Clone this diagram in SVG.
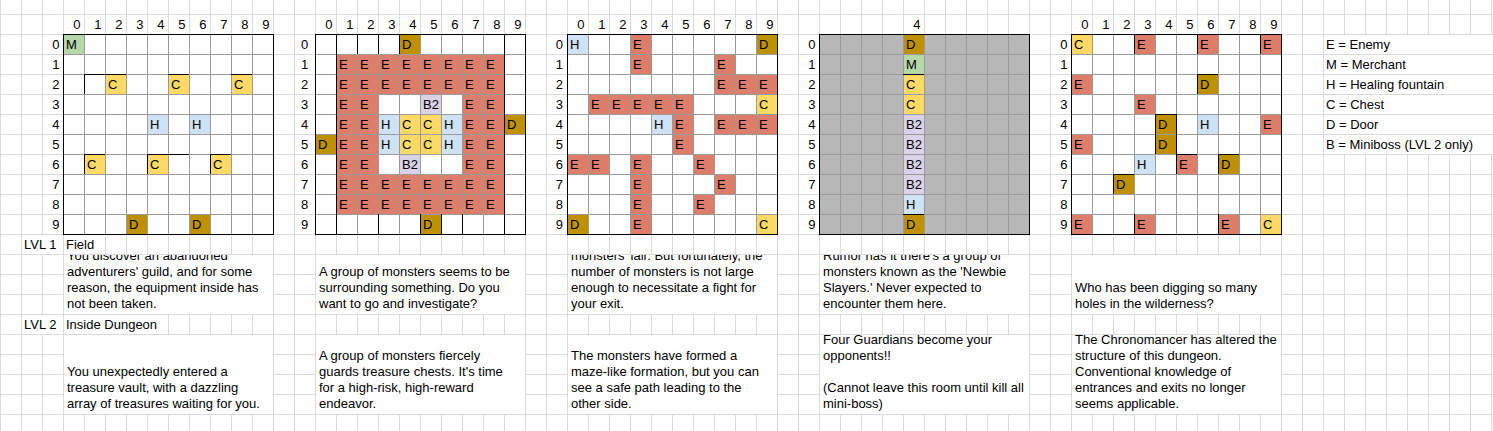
<svg xmlns="http://www.w3.org/2000/svg" width="1493" height="431" viewBox="0 0 1493 431">
<style>
.t{font-family:"Liberation Sans",Arial,sans-serif;font-size:13px;fill:#000}
.r{text-anchor:end}
.ctr{text-anchor:middle}
.w{fill:#fff}
.e{fill:#dd7e6b}.c{fill:#ffd966}.d{fill:#bf9000}.h{fill:#cfe2f3}.m{fill:#b6d7a8}.b{fill:#d9d2e9}.g{fill:#b7b7b7}
.bl{stroke:#000;stroke-width:1;fill:none}
.gl{fill:url(#gp)}
</style>
<defs>
<pattern id="sp" patternUnits="userSpaceOnUse" x="0" y="14" width="21" height="20"><path d="M0.5 0V20M0 0.5H21" stroke="#dadada" fill="none"/></pattern>
<pattern id="gp" patternUnits="userSpaceOnUse" x="0" y="14" width="21" height="20"><path d="M0.5 0V20M0 0.5H21" stroke="#9a9a9a" fill="none"/></pattern>
<clipPath id="r1"><rect x="0" y="255" width="1493" height="59"/></clipPath>
</defs>
<rect width="1493" height="431" fill="#fff"/>
<rect width="1493" height="431" fill="url(#sp)"/>
<g id="masks" class="w">
<rect x="22" y="235" width="41" height="19"/><rect x="64" y="235" width="41" height="19"/>
<rect x="22" y="315" width="41" height="19"/><rect x="64" y="315" width="104" height="19"/>
<rect x="1324" y="35" width="169" height="19"/><rect x="1324" y="55" width="169" height="19"/><rect x="1324" y="75" width="169" height="19"/><rect x="1324" y="95" width="169" height="19"/><rect x="1324" y="115" width="169" height="19"/><rect x="1324" y="135" width="169" height="19"/>
<rect x="64" y="255" width="209" height="59"/><rect x="316" y="255" width="209" height="59"/><rect x="568" y="255" width="209" height="59"/><rect x="820" y="255" width="209" height="59"/><rect x="1072" y="255" width="209" height="59"/>
<rect x="64" y="335" width="209" height="79"/><rect x="316" y="335" width="209" height="79"/><rect x="568" y="335" width="209" height="79"/><rect x="820" y="335" width="209" height="79"/><rect x="1072" y="335" width="209" height="79"/>
</g>

<g id="grid1">
<rect class="w" x="63" y="34" width="210" height="200"/>
<rect class="m" x="63" y="34" width="21" height="20"/>
<rect class="c" x="105" y="74" width="21" height="20"/><rect class="c" x="168" y="74" width="21" height="20"/><rect class="c" x="231" y="74" width="21" height="20"/>
<rect class="h" x="147" y="114" width="21" height="20"/><rect class="h" x="189" y="114" width="21" height="20"/>
<rect class="c" x="84" y="154" width="21" height="20"/><rect class="c" x="147" y="154" width="21" height="20"/><rect class="c" x="210" y="154" width="21" height="20"/>
<rect class="d" x="126" y="214" width="21" height="20"/><rect class="d" x="189" y="214" width="21" height="20"/>
<rect class="gl" x="63" y="34" width="210" height="200"/>
<path class="bl" d="M84.5 74V94M84 74.5H126M168 74.5H189M231 74.5H252M84.5 154V174M84 154.5H105M147.5 154V174M147 154.5H189M210.5 154V174M210 154.5H231"/>
<rect class="bl" x="63.5" y="34.5" width="210" height="200"/>
<g class="t">
<text x="66" y="49">M</text>
<text x="108" y="89">C</text><text x="171" y="89">C</text><text x="234" y="89">C</text>
<text x="150" y="129">H</text><text x="192" y="129">H</text>
<text x="87" y="169">C</text><text x="150" y="169">C</text><text x="213" y="169">C</text>
<text x="129" y="229">D</text><text x="192" y="229">D</text>
</g>
<g class="t r">
<text x="80.5" y="29">0</text><text x="101.5" y="29">1</text><text x="122.5" y="29">2</text><text x="143.5" y="29">3</text><text x="164.5" y="29">4</text><text x="185.5" y="29">5</text><text x="206.5" y="29">6</text><text x="227.5" y="29">7</text><text x="248.5" y="29">8</text><text x="269.5" y="29">9</text>
<text x="59.5" y="49">0</text><text x="59.5" y="69">1</text><text x="59.5" y="89">2</text><text x="59.5" y="109">3</text><text x="59.5" y="129">4</text><text x="59.5" y="149">5</text><text x="59.5" y="169">6</text><text x="59.5" y="189">7</text><text x="59.5" y="209">8</text><text x="59.5" y="229">9</text>
</g>
</g>

<g id="grid2">
<rect class="w" x="315" y="34" width="210" height="200"/>
<rect class="d" x="399" y="34" width="21" height="20"/>
<rect class="e" x="336" y="54" width="168" height="40"/>
<rect class="e" x="336" y="94" width="42" height="80"/>
<rect class="e" x="462" y="94" width="42" height="80"/>
<rect class="e" x="336" y="174" width="168" height="40"/>
<rect class="b" x="420" y="94" width="21" height="20"/>
<rect class="h" x="378" y="114" width="21" height="40"/>
<rect class="c" x="399" y="114" width="42" height="40"/>
<rect class="h" x="441" y="114" width="21" height="40"/>
<rect class="d" x="504" y="114" width="21" height="20"/>
<rect class="d" x="315" y="134" width="21" height="20"/>
<rect class="b" x="399" y="154" width="21" height="20"/>
<rect class="d" x="420" y="214" width="21" height="20"/>
<rect class="gl" x="315" y="34" width="210" height="200"/>
<path class="bl" d="M336.5 34V234M504.5 34V234M357.5 34V54M378.5 34V54M399.5 34V54M378.5 214V234M420.5 214V234M441.5 214V234M462.5 214V234"/>
<rect class="bl" x="315.5" y="34.5" width="210" height="200"/>
<g class="t">
<text x="402" y="49">D</text>
<text x="339" y="69">E</text><text x="360" y="69">E</text><text x="381" y="69">E</text><text x="402" y="69">E</text><text x="423" y="69">E</text><text x="444" y="69">E</text><text x="465" y="69">E</text><text x="486" y="69">E</text>
<text x="339" y="89">E</text><text x="360" y="89">E</text><text x="381" y="89">E</text><text x="402" y="89">E</text><text x="423" y="89">E</text><text x="444" y="89">E</text><text x="465" y="89">E</text><text x="486" y="89">E</text>
<text x="339" y="109">E</text><text x="360" y="109">E</text><text x="423" y="109">B2</text><text x="465" y="109">E</text><text x="486" y="109">E</text>
<text x="339" y="129">E</text><text x="360" y="129">E</text><text x="381" y="129">H</text><text x="402" y="129">C</text><text x="423" y="129">C</text><text x="444" y="129">H</text><text x="465" y="129">E</text><text x="486" y="129">E</text><text x="507" y="129">D</text>
<text x="318" y="149">D</text><text x="339" y="149">E</text><text x="360" y="149">E</text><text x="381" y="149">H</text><text x="402" y="149">C</text><text x="423" y="149">C</text><text x="444" y="149">H</text><text x="465" y="149">E</text><text x="486" y="149">E</text>
<text x="339" y="169">E</text><text x="360" y="169">E</text><text x="402" y="169">B2</text><text x="465" y="169">E</text><text x="486" y="169">E</text>
<text x="339" y="189">E</text><text x="360" y="189">E</text><text x="381" y="189">E</text><text x="402" y="189">E</text><text x="423" y="189">E</text><text x="444" y="189">E</text><text x="465" y="189">E</text><text x="486" y="189">E</text>
<text x="339" y="209">E</text><text x="360" y="209">E</text><text x="381" y="209">E</text><text x="402" y="209">E</text><text x="423" y="209">E</text><text x="444" y="209">E</text><text x="465" y="209">E</text><text x="486" y="209">E</text>
<text x="423" y="229">D</text>
</g>
<g class="t r">
<text x="332.5" y="29">0</text><text x="353.5" y="29">1</text><text x="374.5" y="29">2</text><text x="395.5" y="29">3</text><text x="416.5" y="29">4</text><text x="437.5" y="29">5</text><text x="458.5" y="29">6</text><text x="479.5" y="29">7</text><text x="500.5" y="29">8</text><text x="521.5" y="29">9</text>
</g>
<g class="t ctr">
<text x="304.5" y="49">0</text><text x="304.5" y="69">1</text><text x="304.5" y="89">2</text><text x="304.5" y="109">3</text><text x="304.5" y="129">4</text><text x="304.5" y="149">5</text><text x="304.5" y="169">6</text><text x="304.5" y="189">7</text><text x="304.5" y="209">8</text><text x="304.5" y="229">9</text>
</g>
</g>

<g id="grid3">
<rect class="w" x="567" y="34" width="210" height="200"/>
<rect class="h" x="567" y="34" width="21" height="20"/><rect class="e" x="630" y="34" width="21" height="20"/><rect class="d" x="756" y="34" width="21" height="20"/>
<rect class="e" x="630" y="54" width="21" height="20"/><rect class="e" x="714" y="54" width="21" height="20"/>
<rect class="e" x="714" y="74" width="63" height="20"/>
<rect class="e" x="588" y="94" width="105" height="20"/><rect class="c" x="756" y="94" width="21" height="20"/>
<rect class="h" x="651" y="114" width="21" height="20"/><rect class="e" x="672" y="114" width="21" height="40"/><rect class="e" x="714" y="114" width="63" height="20"/>
<rect class="e" x="567" y="154" width="42" height="20"/><rect class="e" x="630" y="154" width="21" height="80"/><rect class="e" x="693" y="154" width="21" height="20"/>
<rect class="e" x="714" y="174" width="21" height="20"/>
<rect class="e" x="693" y="194" width="21" height="20"/>
<rect class="d" x="567" y="214" width="21" height="20"/><rect class="c" x="756" y="214" width="21" height="20"/>
<rect class="gl" x="567" y="34" width="210" height="200"/>
<rect class="bl" x="567.5" y="34.5" width="210" height="200"/>
<g class="t">
<text x="570" y="49">H</text><text x="633" y="49">E</text><text x="759" y="49">D</text>
<text x="633" y="69">E</text><text x="717" y="69">E</text>
<text x="717" y="89">E</text><text x="738" y="89">E</text><text x="759" y="89">E</text>
<text x="591" y="109">E</text><text x="612" y="109">E</text><text x="633" y="109">E</text><text x="654" y="109">E</text><text x="675" y="109">E</text><text x="759" y="109">C</text>
<text x="654" y="129">H</text><text x="675" y="129">E</text><text x="717" y="129">E</text><text x="738" y="129">E</text><text x="759" y="129">E</text>
<text x="675" y="149">E</text>
<text x="570" y="169">E</text><text x="591" y="169">E</text><text x="633" y="169">E</text><text x="696" y="169">E</text>
<text x="633" y="189">E</text><text x="717" y="189">E</text>
<text x="633" y="209">E</text><text x="696" y="209">E</text>
<text x="570" y="229">D</text><text x="633" y="229">E</text><text x="759" y="229">C</text>
</g>
<g class="t r">
<text x="584.5" y="29">0</text><text x="605.5" y="29">1</text><text x="626.5" y="29">2</text><text x="647.5" y="29">3</text><text x="668.5" y="29">4</text><text x="689.5" y="29">5</text><text x="710.5" y="29">6</text><text x="731.5" y="29">7</text><text x="752.5" y="29">8</text><text x="773.5" y="29">9</text>
<text x="563" y="49">0</text><text x="563" y="69">1</text><text x="563" y="89">2</text><text x="563" y="109">3</text><text x="563" y="129">4</text><text x="563" y="149">5</text><text x="563" y="169">6</text><text x="563" y="189">7</text><text x="563" y="209">8</text><text x="563" y="229">9</text>
</g>
</g>

<g id="grid4">
<rect class="g" x="819" y="34" width="210" height="200"/>
<rect class="d" x="903" y="34" width="21" height="20"/>
<rect class="m" x="903" y="54" width="21" height="20"/>
<rect class="c" x="903" y="74" width="21" height="40"/>
<rect class="b" x="903" y="114" width="21" height="80"/>
<rect class="h" x="903" y="194" width="21" height="20"/>
<rect class="d" x="903" y="214" width="21" height="20"/>
<rect class="gl" x="819" y="34" width="210" height="200"/>
<path class="bl" d="M903 74.5H924M903 214.5H924"/>
<rect class="bl" x="819.5" y="34.5" width="210" height="200"/>
<g class="t">
<text x="906" y="49">D</text><text x="906" y="69">M</text><text x="906" y="89">C</text><text x="906" y="109">C</text><text x="906" y="129">B2</text><text x="906" y="149">B2</text><text x="906" y="169">B2</text><text x="906" y="189">B2</text><text x="906" y="209">H</text><text x="906" y="229">D</text>
</g>
<g class="t r">
<text x="920.5" y="29">4</text>
<text x="815.5" y="49">0</text><text x="815.5" y="69">1</text><text x="815.5" y="89">2</text><text x="815.5" y="109">3</text><text x="815.5" y="129">4</text><text x="815.5" y="149">5</text><text x="815.5" y="169">6</text><text x="815.5" y="189">7</text><text x="815.5" y="209">8</text><text x="815.5" y="229">9</text>
</g>
</g>

<g id="grid5">
<rect class="w" x="1071" y="34" width="210" height="200"/>
<rect class="c" x="1071" y="34" width="21" height="20"/><rect class="e" x="1134" y="34" width="21" height="20"/><rect class="e" x="1197" y="34" width="21" height="20"/><rect class="e" x="1260" y="34" width="21" height="20"/>
<rect class="e" x="1071" y="74" width="21" height="20"/><rect class="d" x="1197" y="74" width="21" height="20"/>
<rect class="e" x="1134" y="94" width="21" height="20"/>
<rect class="d" x="1155" y="114" width="21" height="40"/><rect class="h" x="1197" y="114" width="21" height="20"/><rect class="e" x="1260" y="114" width="21" height="20"/>
<rect class="e" x="1071" y="134" width="21" height="20"/>
<rect class="h" x="1134" y="154" width="21" height="20"/><rect class="e" x="1176" y="154" width="21" height="20"/><rect class="d" x="1218" y="154" width="21" height="20"/>
<rect class="d" x="1113" y="174" width="21" height="20"/>
<rect class="e" x="1071" y="214" width="21" height="20"/><rect class="e" x="1134" y="214" width="21" height="20"/><rect class="e" x="1218" y="214" width="21" height="20"/><rect class="c" x="1260" y="214" width="21" height="20"/>
<rect class="gl" x="1071" y="34" width="210" height="200"/>
<path class="bl" d="M1134.5 34V54M1197.5 34V54M1260.5 34V54M1197.5 74V94M1197 74.5H1218M1155.5 114V154M1155 114.5H1176M1176.5 114V154M1176.5 154V174M1176 154.5H1197M1218.5 154V174M1218 154.5H1239M1113.5 174V194M1113 174.5H1134M1134.5 214V234M1218.5 214V234"/>
<rect class="bl" x="1071.5" y="34.5" width="210" height="200"/>
<g class="t">
<text x="1074" y="49">C</text><text x="1137" y="49">E</text><text x="1200" y="49">E</text><text x="1263" y="49">E</text>
<text x="1074" y="89">E</text><text x="1200" y="89">D</text>
<text x="1137" y="109">E</text>
<text x="1158" y="129">D</text><text x="1200" y="129">H</text><text x="1263" y="129">E</text>
<text x="1074" y="149">E</text><text x="1158" y="149">D</text>
<text x="1137" y="169">H</text><text x="1179" y="169">E</text><text x="1221" y="169">D</text>
<text x="1116" y="189">D</text>
<text x="1074" y="229">E</text><text x="1137" y="229">E</text><text x="1221" y="229">E</text><text x="1263" y="229">C</text>
</g>
<g class="t r">
<text x="1088.5" y="29">0</text><text x="1109.5" y="29">1</text><text x="1130.5" y="29">2</text><text x="1151.5" y="29">3</text><text x="1172.5" y="29">4</text><text x="1193.5" y="29">5</text><text x="1214.5" y="29">6</text><text x="1235.5" y="29">7</text><text x="1256.5" y="29">8</text><text x="1277.5" y="29">9</text>
<text x="1067.5" y="49">0</text><text x="1067.5" y="69">1</text><text x="1067.5" y="89">2</text><text x="1067.5" y="109">3</text><text x="1067.5" y="129">4</text><text x="1067.5" y="149">5</text><text x="1067.5" y="169">6</text><text x="1067.5" y="189">7</text><text x="1067.5" y="209">8</text><text x="1067.5" y="229">9</text>
</g>
</g>

<g id="legend" class="t">
<text x="1326" y="49">E = Enemy</text>
<text x="1326" y="69">M = Merchant</text>
<text x="1326" y="89">H = Healing fountain</text>
<text x="1326" y="109">C = Chest</text>
<text x="1326" y="129">D = Door</text>
<text x="1326" y="149">B = Miniboss (LVL 2 only)</text>
</g>

<g id="levels" class="t">
<text x="24" y="249">LVL 1</text><text x="66" y="249">Field</text>
<text x="24" y="329">LVL 2</text><text x="66" y="329">Inside Dungeon</text>
</g>

<g id="desc-lvl1" class="t" clip-path="url(#r1)">
<text><tspan x="67" y="260">You discover an abandoned</tspan><tspan x="67" y="276">adventurers' guild, and for some</tspan><tspan x="67" y="292">reason, the equipment inside has</tspan><tspan x="67" y="308">not been taken.</tspan></text>
<text><tspan x="319" y="276">A group of monsters seems to be</tspan><tspan x="319" y="292">surrounding something. Do you</tspan><tspan x="319" y="308">want to go and investigate?</tspan></text>
<text><tspan x="571" y="260">monsters' lair. But fortunately, the</tspan><tspan x="571" y="276">number of monsters is not large</tspan><tspan x="571" y="292">enough to necessitate a fight for</tspan><tspan x="571" y="308">your exit.</tspan></text>
<text><tspan x="823" y="260">Rumor has it there's a group of</tspan><tspan x="823" y="276">monsters known as the 'Newbie</tspan><tspan x="823" y="292">Slayers.' Never expected to</tspan><tspan x="823" y="308">encounter them here.</tspan></text>
<text><tspan x="1075" y="292">Who has been digging so many</tspan><tspan x="1075" y="308">holes in the wilderness?</tspan></text>
</g>

<g id="desc-lvl2" class="t">
<text><tspan x="67" y="376">You unexpectedly entered a</tspan><tspan x="67" y="392">treasure vault, with a dazzling</tspan><tspan x="67" y="408">array of treasures waiting for you.</tspan></text>
<text><tspan x="319" y="360">A group of monsters fiercely</tspan><tspan x="319" y="376">guards treasure chests. It's time</tspan><tspan x="319" y="392">for a high-risk, high-reward</tspan><tspan x="319" y="408">endeavor.</tspan></text>
<text><tspan x="571" y="360">The monsters have formed a</tspan><tspan x="571" y="376">maze-like formation, but you can</tspan><tspan x="571" y="392">see a safe path leading to the</tspan><tspan x="571" y="408">other side.</tspan></text>
<text><tspan x="823" y="344">Four Guardians become your</tspan><tspan x="823" y="360">opponents!!</tspan><tspan x="823" y="392">(Cannot leave this room until kill all</tspan><tspan x="823" y="408">mini-boss)</tspan></text>
<text><tspan x="1075" y="344">The Chronomancer has altered the</tspan><tspan x="1075" y="360">structure of this dungeon.</tspan><tspan x="1075" y="376">Conventional knowledge of</tspan><tspan x="1075" y="392">entrances and exits no longer</tspan><tspan x="1075" y="408">seems applicable.</tspan></text>
</g>
</svg>
